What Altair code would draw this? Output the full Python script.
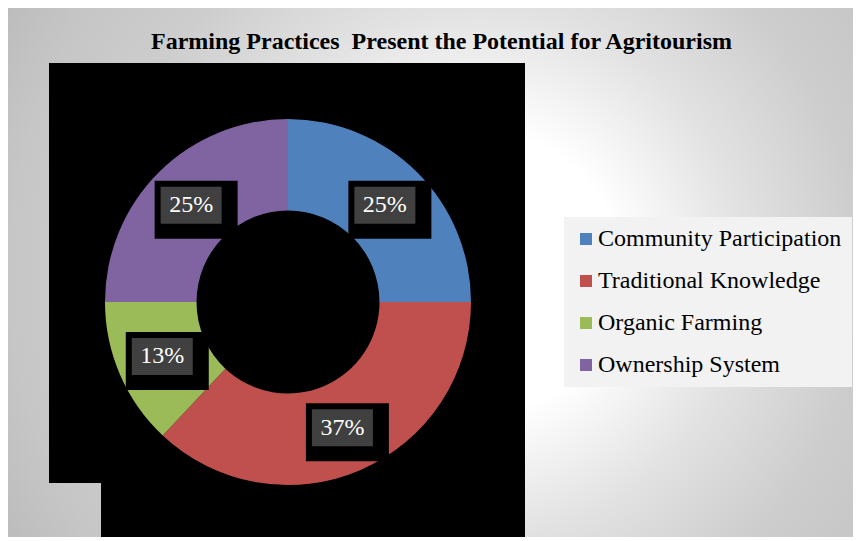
import altair as alt
import pandas as pd

# ---- data ----
categories = ["Community Participation", "Traditional Knowledge", "Organic Farming", "Ownership System"]
shares = [25, 37, 13, 25]
colors = ["#4F81BD", "#C0504D", "#9BBB59", "#8064A2"]
title_text = "Farming Practices\u00a0 Present the Potential for Agritourism"

df = pd.DataFrame({"category": categories, "value": shares, "idx": list(range(len(categories)))})

# ---- layout / style ----
W, H = 845, 529
CX, CY = 280, 294          # donut centre (px)
R_OUT, R_IN = 183, 91.5
R_LAB = 137                # radius of label boxes
FONT = "Liberation Serif"

one = alt.Data(values=[{}])

bg = alt.Chart(one).mark_rect(
    fill=alt.RadialGradient(
        gradient="radial",
        stops=[
            alt.GradientStop(offset=0, color="#ffffff"),
            alt.GradientStop(offset=0.25, color="#ffffff"),
            alt.GradientStop(offset=0.47, color="#e2e2e2"),
            alt.GradientStop(offset=0.68, color="#cdcdcd"),
            alt.GradientStop(offset=0.84, color="#c6c6c6"),
            alt.GradientStop(offset=1, color="#bababa"),
        ],
        x1=0.5586, y1=0.5, r1=0, x2=0.5586, y2=0.5, r2=0.663,
    )
).encode(x=alt.value(0), x2=alt.value(W), y=alt.value(0), y2=alt.value(H))

blk1 = alt.Chart(one).mark_rect(color="black").encode(
    x=alt.value(41), x2=alt.value(516), y=alt.value(55), y2=alt.value(475))
blk2 = alt.Chart(one).mark_rect(color="black").encode(
    x=alt.value(93), x2=alt.value(517), y=alt.value(55), y2=alt.value(H))

arc = alt.Chart(df).mark_arc(innerRadius=R_IN, outerRadius=R_OUT).encode(
    theta=alt.Theta("value:Q", stack=True),
    order=alt.Order("idx:Q"),
    color=alt.Color(
        "category:N",
        scale=alt.Scale(domain=categories, range=colors),
        legend=alt.Legend(
            title=None, orient="none", legendX=556, legendY=209,
            fillColor="#f2f2f2", padding=10, symbolOffset=0,
            symbolType="square", symbolSize=144, symbolStrokeWidth=0,
            labelFont=FONT, labelFontSize=24, labelColor="black",
            labelLimit=500, labelOffset=0, rowPadding=18,
        ),
    ),
    x=alt.value(CX), y=alt.value(CY),
)

base = alt.Chart(df).transform_joinaggregate(
    total="sum(value)"
).transform_window(
    cum="sum(value)", sort=[alt.SortField("idx")], frame=[None, 0]
).transform_calculate(
    mid="2*PI*(datum.cum - datum.value/2)/datum.total",
    lx=f"{R_LAB}*sin(datum.mid)",
    ly=f"{R_LAB}*cos(datum.mid)",
    label="datum.value + '%'",
)

xenc = alt.X("lx:Q", scale=alt.Scale(domain=[-CX, W - CX], nice=False, zero=False), axis=None)
yenc = alt.Y("ly:Q", scale=alt.Scale(domain=[-(H - CY), CY], nice=False, zero=False), axis=None)

black_box = base.mark_point(
    shape="M-1,-0.6988L1,-0.6988L1,0.6988L-1,0.6988Z", size=83 * 83,
    filled=True, color="black", opacity=1, strokeWidth=0, xOffset=5, yOffset=4.5,
).encode(x=xenc, y=yenc)

gray_box = base.mark_point(
    shape="M-1,-0.6066L1,-0.6066L1,0.6066L-1,0.6066Z", size=61 * 61,
    filled=True, color="#404040", opacity=1, strokeWidth=0,
).encode(x=xenc, y=yenc)

labels = base.mark_text(
    font=FONT, fontSize=24, color="white", align="center", baseline="middle"
).encode(x=xenc, y=yenc, text="label:N")

title = alt.Chart(alt.Data(values=[{"t": title_text}])).mark_text(
    font=FONT, fontSize=24, fontWeight="bold", color="black",
    align="center", baseline="alphabetic",
).encode(x=alt.value(433.5), y=alt.value(41), text="t:N")

chart = alt.layer(bg, blk1, blk2, arc, black_box, gray_box, labels, title).properties(
    width=W, height=H, padding=0, autosize="none", background="white"
).configure_view(stroke=None)

chart.save("out.html", embed_options={"renderer": "svg", "actions": False})
